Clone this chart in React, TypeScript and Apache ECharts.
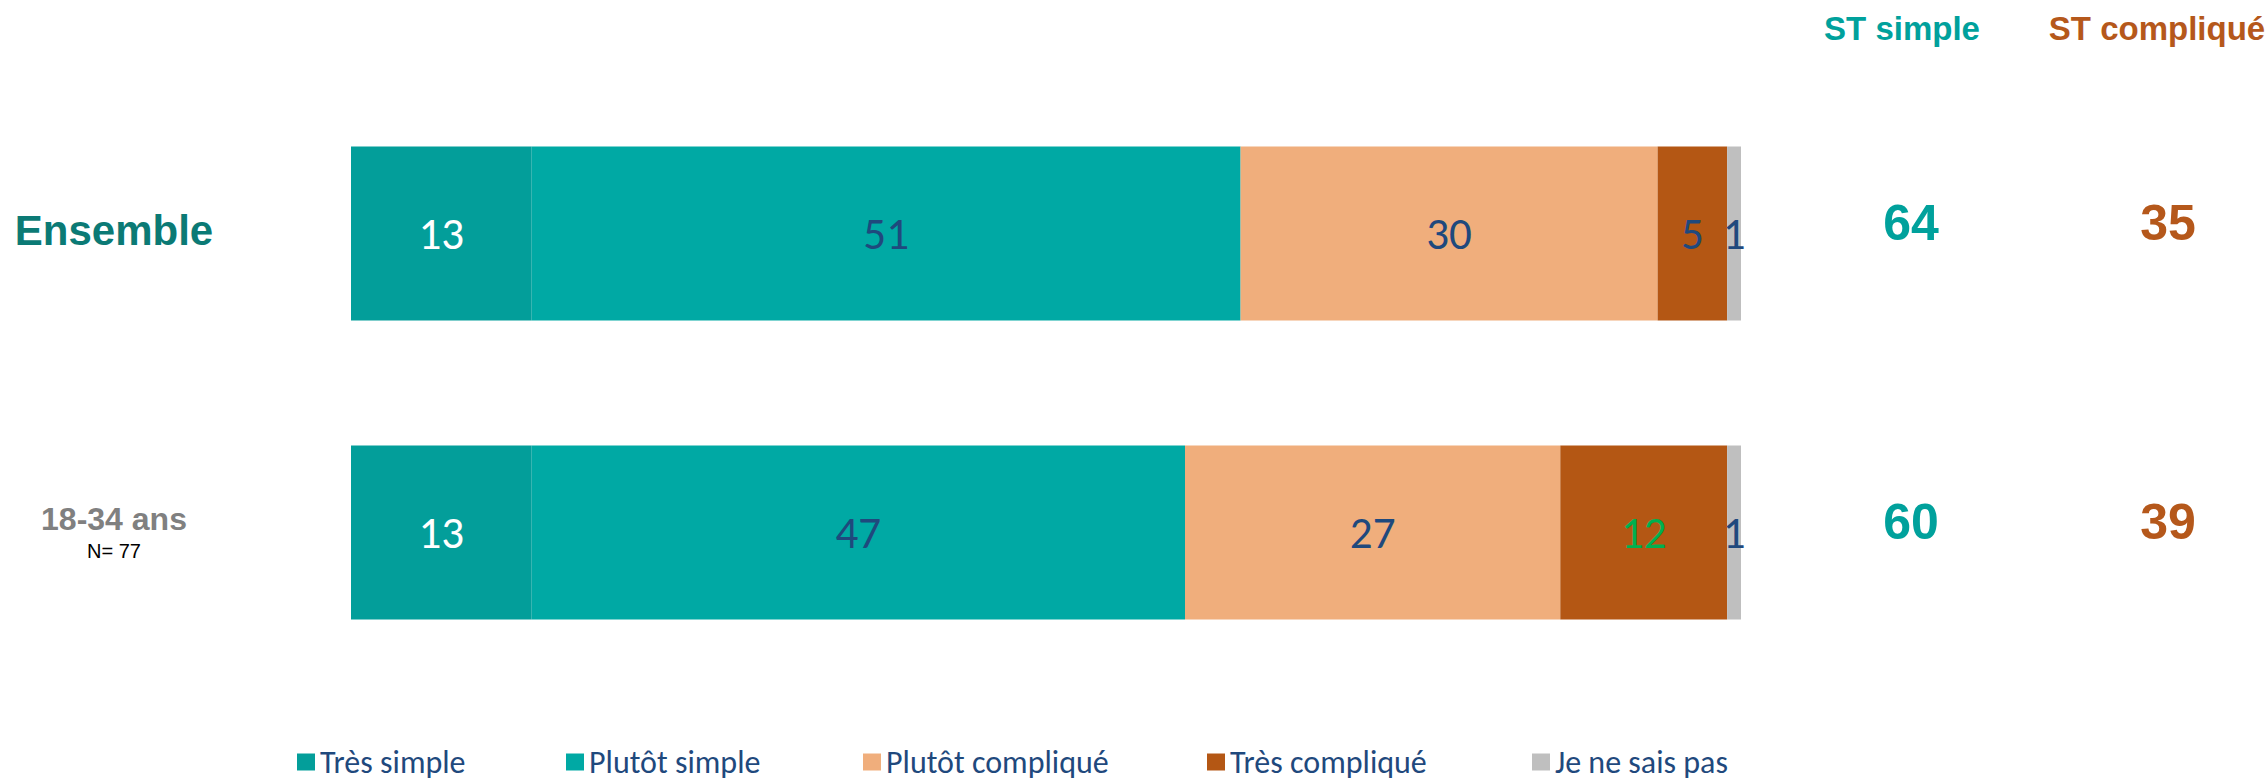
import React, { useEffect, useRef } from "react";
import * as echarts from "echarts";

const categories = ["Ensemble", "18-34 ans"];
const sampleSizes = ["", "N= 77"];
const seriesNames = ["Très simple", "Plutôt simple", "Plutôt compliqué", "Très compliqué", "Je ne sais pas"];
const tresSimple = [13, 13];
const plutotSimple = [51, 47];
const plutotComplique = [30, 27];
const tresComplique = [5, 12];
const neSaisPas = [1, 1];
const stHeaders = ["ST simple", "ST compliqué"];
const stSimple = [64, 60];
const stComplique = [35, 39];

const segColors = ["#039e9a", "#00a9a4", "#f0ae7c", "#b45714", "#bfbfbf"];
const labelColors = [
  ["#ffffff", "#ffffff"],
  ["#1f497d", "#1f497d"],
  ["#1f497d", "#1f497d"],
  ["#1f497d", "#00b050"],
  ["#1f497d", "#1f497d"],
];
const legendLefts = [297, 566, 863, 1207, 1532];
const stColors = ["#00a19c", "#b5581b"];

const ARIAL = "'Liberation Sans', Arial, sans-serif";
const CAL = "Calibri, Carlito, Lato, sans-serif";

export default function App() {
  const ref = useRef<HTMLDivElement>(null);
  useEffect(() => {
    document.body.style.margin = "0";
    const chart = echarts.init(ref.current!, null, { renderer: "svg" });
    const values = [tresSimple, plutotSimple, plutotComplique, tresComplique, neSaisPas];
    const barSeries = values.map((arr, si) => ({
      name: seriesNames[si],
      type: "bar",
      stack: "total",
      xAxisIndex: 0,
      yAxisIndex: 0,
      barWidth: 174,
      itemStyle: { color: segColors[si] },
      data: arr.map((v, ci) => ({
        value: v,
        label: { color: labelColors[si][ci] },
      })),
      label: {
        show: true,
        position: "inside",
        fontSize: 45,
        fontFamily: CAL,
        formatter: "{c}",
      },
    }));
    const stData: any[] = [];
    categories.forEach((c, ci) => {
      stData.push({ value: [stHeaders[0], c, stSimple[ci]], label: { color: stColors[0] } });
      stData.push({ value: [stHeaders[1], c, stComplique[ci]], label: { color: stColors[1] } });
    });
    const option: any = {
      animation: false,
      grid: [
        { left: 351, width: 1390, top: 84, height: 598, outerBoundsMode: "none", containLabel: false },
        { left: 1911, width: 257, top: 84, height: 598, outerBoundsMode: "none", containLabel: false },
      ],
      xAxis: [
        { type: "value", gridIndex: 0, min: 0, max: 100, show: false },
        {
          type: "category",
          gridIndex: 1,
          data: stHeaders,
          boundaryGap: false,
          position: "top",
          axisLine: { show: false },
          axisTick: { show: false },
          splitLine: { show: false },
          axisLabel: {
            interval: 0,
            hideOverlap: false,
            showMinLabel: true,
            showMaxLabel: true,
            margin: 39,
            fontFamily: ARIAL,
            fontWeight: "bold",
            fontSize: 33,
            formatter: (v: string) => (v === stHeaders[0] ? `{a|${v}}` : `{b|${v}}`),
            rich: {
              a: { color: stColors[0], fontSize: 33, fontWeight: "bold", fontFamily: ARIAL, padding: [0, 18, 0, 0] },
              b: { color: stColors[1], fontSize: 33, fontWeight: "bold", fontFamily: ARIAL, padding: [0, 22, 0, 0] },
            },
          },
        },
      ],
      yAxis: [
        {
          type: "category",
          gridIndex: 0,
          data: categories,
          inverse: true,
          axisLine: { show: false },
          axisTick: { show: false },
          axisLabel: {
            margin: 237,
            align: "center",
            formatter: (v: string) => {
              const i = categories.indexOf(v);
              if (i === 0) return `{ens|${v}}`;
              return `{age|${v}}\n{n|${sampleSizes[i]}}`;
            },
            rich: {
              ens: { fontFamily: ARIAL, fontWeight: "bold", fontSize: 42, color: "#0b7a75", lineHeight: 48, padding: [0, 0, 6, 0] },
              age: { fontFamily: ARIAL, fontWeight: "bold", fontSize: 32, color: "#808080", lineHeight: 36, align: "center" },
              n: { fontFamily: ARIAL, fontSize: 20, color: "#000000", lineHeight: 28, align: "center" },
            },
          },
        },
        {
          type: "category",
          gridIndex: 1,
          data: categories,
          inverse: true,
          show: false,
        },
      ],
      legend: seriesNames.map((n, i) => ({
        data: [n],
        left: legendLefts[i] - 5,
        top: 741,
        padding: 5,
        icon: "rect",
        itemWidth: 18,
        itemHeight: 17,
        itemGap: 0,
        selectedMode: false,
        textStyle: { fontFamily: CAL, fontSize: 32, color: "#1f497d", lineHeight: 30 },
      })),
      series: [
        ...barSeries,
        {
          type: "scatter",
          xAxisIndex: 1,
          yAxisIndex: 1,
          symbolSize: 1,
          itemStyle: { color: "transparent", opacity: 1 },
          data: stData,
          label: {
            show: true,
            position: "inside",
            offset: [0, -11],
            opacity: 1,
            fontFamily: ARIAL,
            fontWeight: "bold",
            fontSize: 50,
            formatter: (p: any) => String(p.value[2]),
          },
        },
      ],
    };
    chart.setOption(option);
    return () => chart.dispose();
  }, []);
  return <div ref={ref} style={{ width: 2266, height: 781 }} />;
}
